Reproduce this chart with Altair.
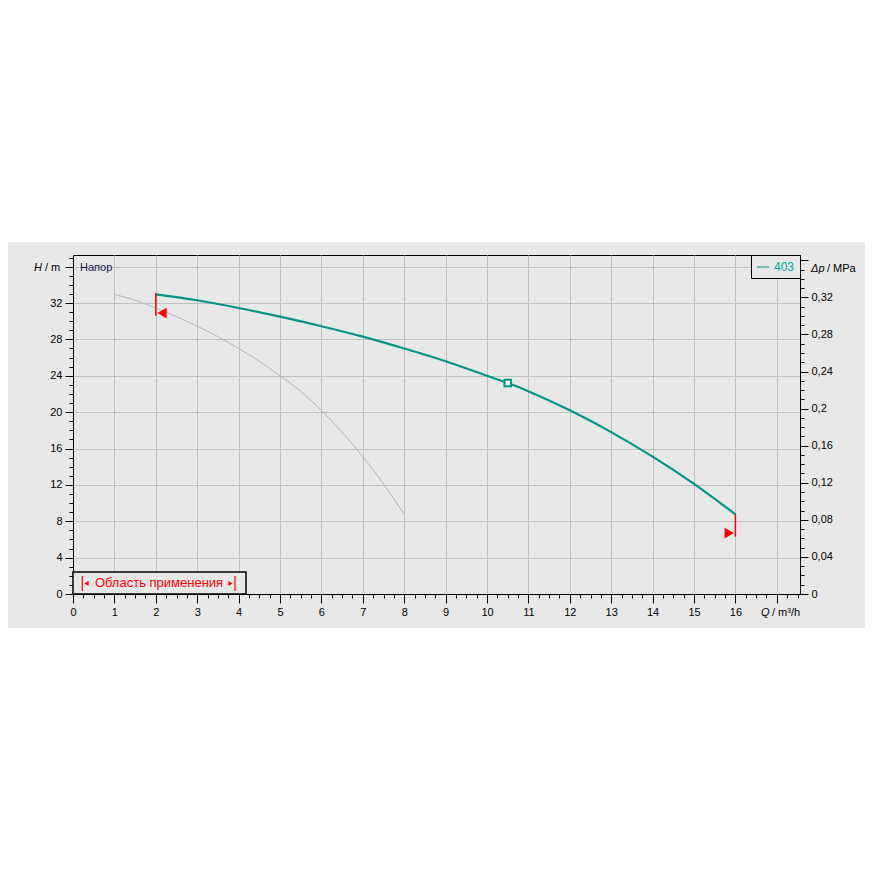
import altair as alt
import pandas as pd

# ---------------- data ----------------
series_name = ["403"]
q_pump = [2, 3, 4, 5, 6, 7, 8, 9, 10, 10.5, 11, 12, 13, 14, 15, 16]
h_pump = [32.95, 32.3, 31.45, 30.5, 29.45, 28.3, 27.0, 25.6, 24.0, 23.2, 22.3, 20.2, 17.8, 15.1, 12.1, 8.76]

q_ref = [1, 1.5, 2, 2.5, 3, 3.5, 4, 4.5, 5, 5.5, 6, 6.5, 7, 7.5, 8]
h_ref = [32.95, 32.3, 31.45, 30.5, 29.45, 28.3, 27.0, 25.6, 24.0, 22.3, 20.2, 17.8, 15.1, 12.1, 8.76]

duty_q = [10.5]
duty_h = [23.2]

lim_q = [2, 16]
lim_top = [33.1, 8.8]
lim_bot = [30.6, 6.3]
tri_q = [2.15, 15.85]
tri_h = [30.9, 6.7]
tri_shape = ["triangle-left", "triangle-right"]

X_MAX = 17.56
Y_MAX = 37.28
MPA_PER_M = 0.00981

# ---------------- style ----------------
W, H = 727, 339
PAD_L, PAD_T = 65, 247
FONT = "Liberation Sans"
TEAL = "#009682"
BAND = "#e8e8e8"
GRID = "#c0c0c0"
RED = "#ff0000"

pump_df = pd.DataFrame({"q": q_pump, "h": h_pump, "series": series_name[0]})
ref_df = pd.DataFrame({"q": q_ref, "h": h_ref})
duty_df = pd.DataFrame({"q": duty_q, "h": duty_h})
lim_df = pd.DataFrame({"q": lim_q, "top": lim_top, "bot": lim_bot})
tri_df = pd.DataFrame({"q": tri_q, "h": tri_h, "shape": tri_shape})
one = pd.DataFrame({"a": [0]})

x_scale = alt.Scale(domain=[0, X_MAX], nice=False, zero=False)
y_scale = alt.Scale(domain=[0, Y_MAX], nice=False, zero=False)

x_axis = alt.Axis(
    values=[i * 0.25 for i in range(71)],
    labelExpr="datum.value % 1 == 0 && datum.value <= 16 ? format(datum.value, 'd') : ''",
    tickSize={"condition": {"test": "datum.value % 1 == 0", "value": 9}, "value": 4},
    gridOpacity={"condition": {"test": "datum.value % 1 == 0", "value": 1}, "value": 0},
    grid=True, labelOverlap=False, labelFlush=False, labelPadding=3, title=None,
)
y_axis = alt.Axis(
    values=list(range(38)),
    labelExpr="datum.value % 4 == 0 && datum.value <= 32 ? format(datum.value, 'd') : ''",
    tickSize={"condition": {"test": "datum.value % 4 == 0", "value": 8}, "value": 4},
    gridOpacity={"condition": {"test": "datum.value % 4 == 0", "value": 1}, "value": 0},
    grid=True, labelOverlap=False, labelFlush=False, labelPadding=3, title=None,
)
p_axis = alt.Axis(
    orient="right",
    values=[round(i * 0.01, 2) for i in range(37)],
    labelExpr="datum.value == 0 ? '0' : (round(datum.value * 100) % 4 == 0 && datum.value < 0.33 ? replace(format(datum.value, '.2~f'), '.', ',') : '')",
    tickSize={"condition": {"test": "round(datum.value * 100) % 4 == 0", "value": 8}, "value": 4},
    grid=False, labelOverlap=False, labelFlush=False, labelPadding=3, title=None,
)

X = alt.X("q:Q", scale=x_scale, axis=x_axis)
Y = alt.Y("h:Q", scale=y_scale, axis=y_axis)


def ptext(txt, x, y, color="black", size=11, style="normal", align="left"):
    return alt.Chart(one).mark_text(
        text=txt, font=FONT, fontSize=size, fontStyle=style, color=color,
        align=align, baseline="middle",
    ).encode(x=alt.value(x), y=alt.value(y))


# white areas above and below the grey band
white_top = alt.Chart(one).mark_rect(color="white").encode(
    x=alt.value(-PAD_L), x2=alt.value(W + 70), y=alt.value(-PAD_T), y2=alt.value(-13))
white_bot = alt.Chart(one).mark_rect(color="white").encode(
    x=alt.value(-PAD_L), x2=alt.value(W + 70), y=alt.value(373), y2=alt.value(700))

ref_line = alt.Chart(ref_df).mark_line(color="#b4b4b4", strokeWidth=1, interpolate="natural").encode(x=X, y=Y)

pump_line = alt.Chart(pump_df).mark_line(strokeWidth=2.2, interpolate="natural").encode(
    x=X, y=Y,
    color=alt.Color("series:N", scale=alt.Scale(domain=series_name, range=[TEAL]),
                    legend=alt.Legend(title=None, orient="top-right", offset=0, padding=5,
                                      strokeColor="black", fillColor=BAND, symbolType="stroke",
                                      symbolSize=150, symbolStrokeWidth=1, labelColor="#00a99d",
                                      labelFont=FONT, labelFontSize=12, labelOffset=4,
                                      cornerRadius=0)),
)

lim_rules = alt.Chart(lim_df).mark_rule(color=RED, strokeWidth=1.5).encode(
    x=X, y=alt.Y("top:Q", scale=y_scale, axis=y_axis), y2="bot:Q")

tri = alt.Chart(tri_df).mark_point(filled=True, color=RED, opacity=1, size=115).encode(
    x=X, y=Y,
    shape=alt.Shape("shape:N", scale=alt.Scale(domain=tri_shape, range=tri_shape), legend=None))

duty = alt.Chart(duty_df).mark_point(shape="square", filled=True, fill="white", stroke=TEAL,
                                     strokeWidth=2, size=42, opacity=1).encode(x=X, y=Y)

# "Область применения" box
box = alt.Chart(one).mark_rect(fill=BAND, stroke="black", strokeWidth=1.5).encode(
    x=alt.value(0), x2=alt.value(173), y=alt.value(317), y2=alt.value(339))
box_bar1 = alt.Chart(one).mark_rule(color=RED, strokeWidth=1.2).encode(
    x=alt.value(9.3), y=alt.value(321), y2=alt.value(336))
box_bar2 = alt.Chart(one).mark_rule(color=RED, strokeWidth=1.2).encode(
    x=alt.value(162), y=alt.value(321), y2=alt.value(336))
box_tri1 = alt.Chart(one).mark_point(shape="triangle-left", filled=True, color=RED, opacity=1, size=24).encode(
    x=alt.value(13.5), y=alt.value(328.5))
box_tri2 = alt.Chart(one).mark_point(shape="triangle-right", filled=True, color=RED, opacity=1, size=24).encode(
    x=alt.value(157.5), y=alt.value(328.5))
box_text = ptext("Область применения", 86, 328, color=RED, size=13, align="center")

texts = [
    ptext("Напор", 7, 13, color="#14145a", size=11),
    ptext("H", -39, 13, style="italic"),
    ptext("/ m", -28, 13),
    ptext("Q", 688, 358, style="italic"),
    ptext("/ m³/h", 699, 358),
    ptext("Δp", 738, 14, style="italic"),
    ptext("/ MPa", 754, 14),
]

main = alt.layer(white_top, white_bot, ref_line, pump_line, lim_rules, tri, duty,
                 box, box_bar1, box_bar2, box_tri1, box_tri2, box_text, *texts)

p_df = pd.DataFrame({"q": [0, 0], "p": [0, Y_MAX * MPA_PER_M]})
right = alt.Chart(p_df).mark_point(opacity=0).encode(
    x=X,
    y=alt.Y("p:Q", scale=alt.Scale(domain=[0, Y_MAX * MPA_PER_M], nice=False, zero=False), axis=p_axis))

chart = alt.layer(main, right).resolve_scale(y="independent").properties(
    width=W, height=H,
    autosize=alt.AutoSizeParams(type="none"),
    padding={"left": PAD_L, "top": PAD_T, "right": 857 - PAD_L - W, "bottom": 857 - PAD_T - H},
    background=BAND,
).configure_view(stroke="black", strokeWidth=1).configure_axis(
    domainColor="black", tickColor="black", gridColor=GRID, gridWidth=1,
    labelFont=FONT, labelFontSize=11, labelColor="black",
)

chart.save("out.html", embed_options={"renderer": "svg", "actions": False})
